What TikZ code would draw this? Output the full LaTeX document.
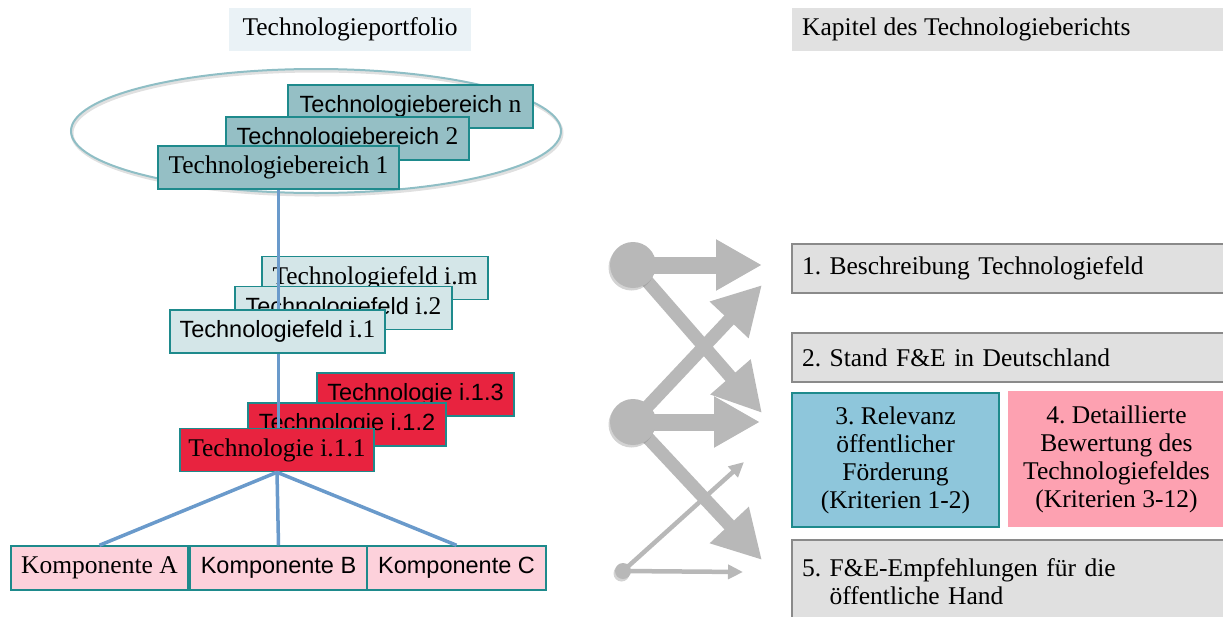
\documentclass[tikz,border=0pt]{standalone}
\usepackage{fontspec}
\setmainfont{Liberation Serif}
\setsansfont{Liberation Sans}
\usetikzlibrary{arrows.meta,shadows}
\definecolor{tealbd}{HTML}{1E8A8C}
\definecolor{tbfill}{HTML}{95BFC5}
\definecolor{fldfill}{HTML}{D4E6E8}
\definecolor{techred}{HTML}{E8233F}
\definecolor{kompink}{HTML}{FDD1DB}
\definecolor{linkblue}{HTML}{6A9ACB}
\definecolor{ellcol}{HTML}{8FBEC5}
\definecolor{hdrblue}{HTML}{EAF2F6}
\definecolor{hdrgrey}{HTML}{E1E1E1}
\definecolor{boxgrey}{HTML}{E0E0E0}
\definecolor{boxbd}{HTML}{8A8A8A}
\definecolor{relblue}{HTML}{8EC6DB}
\definecolor{detpink}{HTML}{FDA1B1}
\definecolor{arrgrey}{HTML}{B8B8B8}
\pgfdeclarelayer{bg}
\pgfdeclarelayer{mid}
\pgfsetlayers{bg,mid,main}
\frenchspacing
\tikzset{
  serif/.style={font=\fontsize{25.5}{28}\selectfont\rmfamily},
  hbox/.style={rectangle, inner sep=0pt, line width=1.5pt, draw=tealbd, serif},
  bereich/.style={hbox, fill=tbfill, minimum height=43pt},
  feld/.style={hbox, fill=fldfill, minimum height=43pt},
  techno/.style={hbox, fill=techred, minimum height=43pt},
  kompo/.style={hbox, fill=kompink, minimum height=44pt},
  link/.style={draw=linkblue, line width=3.5pt},
  chap/.style={rectangle, fill=boxgrey, draw=boxbd, line width=2pt, serif, inner xsep=10pt, inner ysep=0pt, align=left},
  bigarr/.style={draw=arrgrey, line width=17pt, -{Triangle[length=46pt,width=48pt]}, color=arrgrey},
  diagarr/.style={draw=arrgrey, line width=13pt, -{Triangle[length=48pt,width=50pt]}, color=arrgrey},
  smallarr/.style={draw=arrgrey, line width=4.5pt, -{Triangle[length=15pt,width=14pt]}, color=arrgrey},
  dot/.style={circle, fill=arrgrey, inner sep=0pt, drop shadow={opacity=0.35, shadow xshift=-1.5pt, shadow yshift=-2.5pt}},
}
\newcommand{\sa}[1]{{\fontsize{23.5}{26}\selectfont\sffamily #1}}
\begin{document}
\begin{tikzpicture}[x=1pt,y=-1pt]
\useasboundingbox (0,0) rectangle (1223,616);
\clip (0,0) rectangle (1223,616);

% headers
\node[rectangle, fill=hdrblue, minimum width=242pt, minimum height=43pt, inner sep=0pt, serif] (hport) at (350,29.5) {Technologieportfolio};
\node[rectangle, fill=hdrgrey, minimum width=433pt, minimum height=43pt, inner sep=0pt] (hkap) at (1008.5,29.5) {};
\node[serif, anchor=west, inner sep=0pt] (hkaptext) at (802,29.5) {Kapitel des Technologieberichts};

% ellipse and back boxes
\begin{pgfonlayer}{bg}
\draw[black, opacity=0.12, line width=3pt] (317,133) ellipse [x radius=245, y radius=62];
\draw[draw=ellcol, line width=2pt] (316,131) ellipse [x radius=245, y radius=62];
\node[bereich, minimum width=245pt] (bn) at (410.5,106.5) {\sa{Technologiebereich} n};
\node[bereich, minimum width=243pt] (b2) at (347.5,138.5) {\sa{Technologiebereich} 2};
\node[feld, minimum width=226pt] (fm) at (375,278) {Technologiefeld i.m};
\node[feld, minimum width=217pt] (f2) at (343.5,308) {\sa{Technologiefeld} i.2};
\node[techno, minimum width=197pt] (t3) at (415.5,394.5) {\sa{Technologie i.1.3}};
\node[techno, minimum width=198pt] (t2) at (347,424.5) {\sa{Technologie i.1.2}};
\end{pgfonlayer}

% front boxes
\node[bereich, minimum width=241pt] (b1) at (278.5,167.5) {Technologiebereich 1};
\node[feld, minimum width=215pt] (f1) at (277.5,331.5) {\sa{Technologiefeld} i.1};
\node[techno, minimum width=194pt] (t1) at (277,450) {Technologie i.1.1};
\node[kompo, minimum width=177pt] (ka) at (99.5,568) {Komponente A};
\node[kompo, minimum width=177pt] (kb) at (278.5,568) {\sa{Komponente B}};
\node[kompo, minimum width=179pt] (kc) at (456.5,568) {\sa{Komponente C}};

\begin{pgfonlayer}{mid}
\draw[link] (b1.south) -- (b1.south |- t1.north);
\end{pgfonlayer}
\draw[link] (t1.south) -- (ka.north);
\draw[link] (t1.south) -- (kb.north);
\draw[link] (t1.south) -- (kc.north);

% chapter boxes
\node[chap, minimum width=433pt, minimum height=49pt, text width=413pt] (r1) at (1008.5,268.5) {1. Beschreibung Technologiefeld};
\node[chap, minimum width=433pt, minimum height=49pt, text width=413pt] (r2) at (1008.5,357.5) {2. Stand F\&E in Deutschland};
\node[rectangle, fill=relblue, draw=tealbd, line width=1.5pt, minimum width=207pt, minimum height=134pt, inner sep=0pt, serif, align=center] (r3) at (895.5,460) {3. Relevanz\\öffentlicher\\Förderung\\(Kriterien 1-2)};
\node[rectangle, fill=detpink, minimum width=217pt, minimum height=136pt, inner sep=0pt, serif, align=center] (r4) at (1116.5,459) {4. Detaillierte\\Bewertung des\\Technologiefeldes\\(Kriterien 3-12)};
\node[chap, minimum width=433pt, minimum height=84pt, text width=413pt] (r5) at (1008.5,582) {5. F\&E-Empfehlungen für die\\\hphantom{5. }öffentliche Hand};

% arrow graphic
\node[dot, minimum size=46pt] (c1) at (633,265) {};
\node[dot, minimum size=46pt] (c2) at (633,422) {};
\node[dot, minimum size=16pt] (c3) at (623,571) {};
\coordinate (e1) at (762,265);
\coordinate (e2) at (762,413);
\coordinate (e3) at (762,285);
\coordinate (e4) at (760,422);
\coordinate (e5) at (762,560);
\coordinate (e6) at (744,462);
\coordinate (e7) at (743,572);
\begin{pgfonlayer}{mid}
\draw[diagarr] (c1.center) -- (e2);
\draw[diagarr] (c2.center) -- (e3);
\draw[diagarr] (c2.center) -- (e5);
\draw[smallarr] (c3.center) -- (e6);
\draw[smallarr] (c3.center) -- (e7);
\draw[bigarr] (c1.center) -- (e1);
\draw[bigarr] (c2.center) -- (e4);
\end{pgfonlayer}
\end{tikzpicture}
\end{document}
